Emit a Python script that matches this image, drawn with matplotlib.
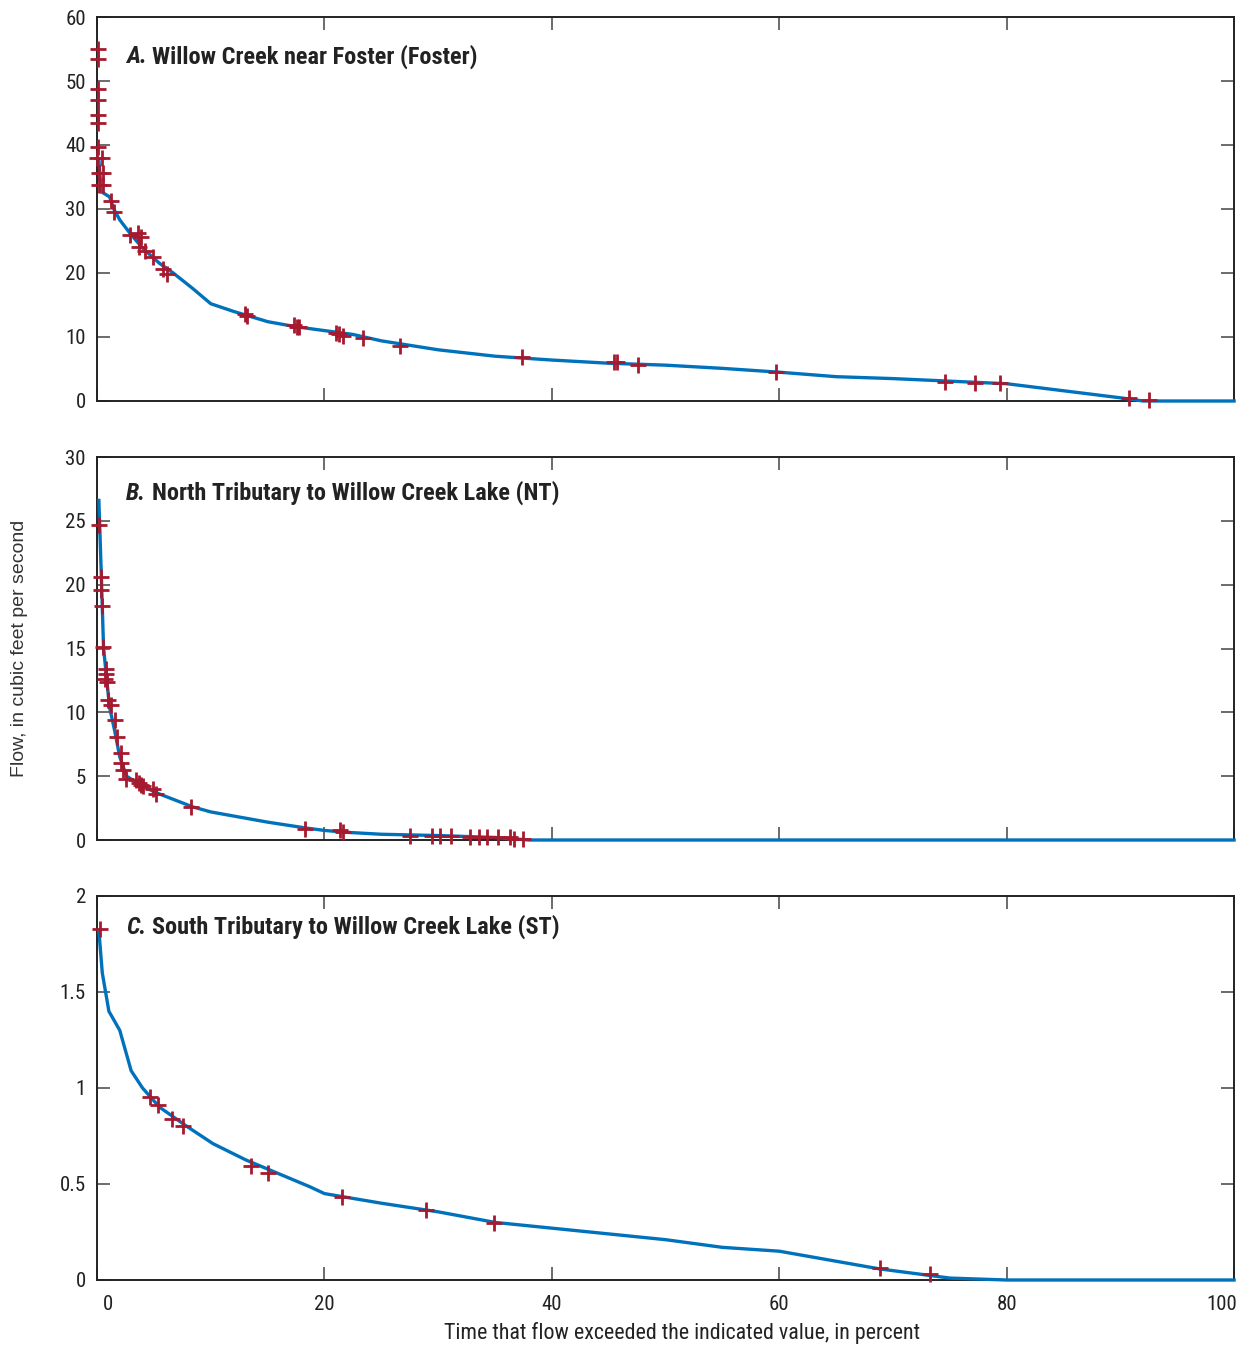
import matplotlib
matplotlib.use("Agg")
import matplotlib.pyplot as plt
import matplotlib.transforms as mtransforms

# Flow-duration data, percent of time exceeded vs flow (ft3/s)
# A. Willow Creek near Foster
a_curve_pct = [0.16, 0.37, 1.1, 1.5, 2.0, 2.9, 4.0, 5.5, 6.7, 8.4, 10.0, 12.0, 15.0,
               17.5, 20.0, 22.5, 25.0, 30.0, 35.0, 40.0, 45.0, 50.0, 55.0, 60.0,
               65.0, 70.0, 75.0, 80.0, 85.0, 90.0, 92.0, 95.0, 100.0]
a_curve_flow = [37.7, 32.7, 31.9, 29.9, 28.3, 26.2, 23.9, 21.5, 20.0, 17.6, 15.2, 14.0, 12.4,
                11.6, 11.0, 10.4, 9.4, 8.0, 7.0, 6.4, 5.9, 5.6, 5.1, 4.5,
                3.8, 3.5, 3.1, 2.7, 1.6, 0.5, 0.0, 0.0, 0.0]
a_obs_pct = [0.05, 0.05, 0.05, 0.05, 0.05, 0.05, 0.05, 0.0, 0.4, 0.2, 0.5, 0.2, 0.5,
             1.25, 1.5, 2.9, 3.6, 3.9, 3.7, 4.2, 4.9, 5.8, 6.15, 13.0, 13.2,
             17.3, 17.6, 17.8, 21.0, 21.3, 21.6, 23.4, 26.65, 37.4, 45.5, 45.7,
             47.6, 59.7, 74.6, 77.2, 79.4, 90.8, 92.5]
a_obs_flow = [55.0, 53.5, 48.7, 47.0, 44.7, 43.5, 39.7, 37.9, 37.9, 35.6, 35.6, 33.8, 33.8,
              31.25, 29.5, 26.0, 26.2, 25.6, 24.1, 23.5, 22.5, 20.6, 19.8, 13.6, 13.3,
              11.9, 11.6, 11.5, 10.7, 10.5, 10.2, 9.9, 8.65, 6.9, 6.05, 6.05,
              5.7, 4.5, 3.0, 2.8, 2.8, 0.4, 0.1]

# B. North Tributary to Willow Creek Lake
b_curve_pct = [0.16, 0.37, 0.57, 0.8, 1.1, 1.54, 2.0, 2.6, 4.0, 5.5, 8.4, 10.0, 15.0,
               18.3, 20.0, 22.0, 25.0, 30.0, 35.0, 38.0, 40.0, 100.0]
b_curve_flow = [26.6, 20.9, 15.1, 13.0, 10.4, 8.6, 6.5, 5.0, 4.2, 3.6, 2.6, 2.2, 1.4,
                0.95, 0.75, 0.6, 0.45, 0.35, 0.2, 0.0, 0.0, 0.0]
b_obs_pct = [0.2, 0.37, 0.37, 0.45, 0.5, 0.8, 0.8, 0.7, 0.9, 1.0, 1.25, 1.54, 1.75,
             2.07, 2.07, 2.27, 2.57, 3.45, 3.7, 3.9, 4.0, 4.9, 5.2, 8.3, 18.3,
             21.4, 21.6, 27.5, 29.5, 30.2, 31.1, 32.8, 33.6, 34.3, 35.3, 36.3, 36.7, 37.5]
b_obs_flow = [24.7, 20.6, 19.6, 18.3, 15.1, 13.4, 13.0, 12.6, 12.4, 11.0, 10.6, 9.4, 8.1,
              6.8, 6.0, 5.5, 4.8, 4.7, 4.5, 4.3, 4.2, 4.0, 3.6, 2.6, 0.9,
              0.8, 0.6, 0.35, 0.3, 0.3, 0.3, 0.25, 0.25, 0.25, 0.25, 0.2, 0.1, 0.05]

# C. South Tributary to Willow Creek Lake
c_curve_pct = [0.16, 0.46, 1.04, 2.0, 3.0, 4.0, 5.5, 7.9, 10.2, 13.1, 18.7, 20.0, 25.0,
               30.0, 35.0, 40.0, 50.0, 55.0, 60.0, 68.8, 75.0, 80.0, 100.0]
c_curve_flow = [1.82, 1.60, 1.40, 1.30, 1.09, 1.00, 0.90, 0.80, 0.71, 0.625, 0.486, 0.45, 0.40,
                0.355, 0.30, 0.27, 0.21, 0.17, 0.15, 0.058, 0.01, 0.0, 0.0]
c_obs_pct = [0.22, 4.7, 5.4, 6.6, 7.6, 13.5, 15.0, 21.5, 28.9, 34.9, 68.9, 73.3]
c_obs_flow = [1.83, 0.955, 0.91, 0.837, 0.80, 0.595, 0.559, 0.43, 0.365, 0.297, 0.06, 0.03]

panels = [
    ("A.", "Willow Creek near Foster (Foster)", a_curve_pct, a_curve_flow,
     a_obs_pct, a_obs_flow, [0, 10, 20, 30, 40, 50, 60], ["0", "10", "20", "30", "40", "50", "60"]),
    ("B.", "North Tributary to Willow Creek Lake (NT)", b_curve_pct, b_curve_flow,
     b_obs_pct, b_obs_flow, [0, 5, 10, 15, 20, 25, 30], ["0", "5", "10", "15", "20", "25", "30"]),
    ("C.", "South Tributary to Willow Creek Lake (ST)", c_curve_pct, c_curve_flow,
     c_obs_pct, c_obs_flow, [0, 0.5, 1, 1.5, 2], ["0", "0.5", "1", "1.5", "2"]),
]
x_ticks = [0, 20, 40, 60, 80, 100]
x_labels = ["0", "20", "40", "60", "80", "100"]

NARROW = ["Roboto Condensed", "Liberation Sans Narrow", "Liberation Sans", "DejaVu Sans"]
plt.rcParams["font.family"] = NARROW

LINE_BLUE = "#0072BC"
MARK_RED = "#A6192E"
INK = "#222222"

fig = plt.figure(figsize=(12.41, 13.45), dpi=100)
boxes = [(0.0782, 0.70186, 0.9162, 0.2855),
         (0.0782, 0.37546, 0.9162, 0.28476),
         (0.0782, 0.04833, 0.9162, 0.2855)]
title_y = [0.896, 0.906, 0.919]

for i, (box, p) in enumerate(zip(boxes, panels)):
    letter, name, cx, cy, ox, oy, yt, yl = p
    ax = fig.add_axes(box)
    ax.plot(cx, cy, color=LINE_BLUE, lw=2.4, zorder=3, clip_on=False)
    ax.plot(ox, oy, ls="none", marker="+", ms=11, mew=2.0, color=MARK_RED,
            zorder=4, clip_on=False)
    ax.set_xlim(0, 100)
    ax.set_ylim(yt[0], yt[-1])
    ax.set_yticks(yt)
    ax.set_yticklabels(yl)
    ax.set_xticks(x_ticks)
    if i == 2:
        ax.set_xticklabels(x_labels)
    else:
        ax.set_xticklabels([])
    ax.tick_params(axis="both", direction="in", length=9.5, width=1.1,
                   color="#444444", labelsize=15, labelcolor=INK,
                   top=True, right=True)
    ax.tick_params(axis="y", pad=8)
    ax.tick_params(axis="x", pad=11)
    for s in ax.spines.values():
        s.set_linewidth(1.4)
        s.set_color(INK)

    if i == 2:
        lbls = ax.get_xticklabels()
        lbls[0].set_transform(lbls[0].get_transform() +
                              mtransforms.ScaledTranslation(11 / 100, 0, fig.dpi_scale_trans))
        lbls[-1].set_horizontalalignment("right")
        lbls[-1].set_transform(lbls[-1].get_transform() +
                               mtransforms.ScaledTranslation(3 / 100, 0, fig.dpi_scale_trans))

    t1 = ax.text(0.0255, title_y[i], letter, transform=ax.transAxes, fontsize=17.5,
                 fontweight="bold", fontstyle="italic", color=INK, va="center")
    ax.annotate(name, xy=(1, 0.5), xycoords=t1, xytext=(4, 0), textcoords="offset points",
                fontsize=17.5, fontweight="bold", color=INK, va="center")

fig.text(682 / 1241, 1 - 1333 / 1345, "Time that flow exceeded the indicated value, in percent",
         ha="center", va="center", fontsize=15.8, color=INK)
fig.text(20 / 1241, 1 - 648 / 1345, "Flow, in cubic feet per second", rotation=90,
         ha="center", va="center", fontsize=14, color="#333333",
         family=["Liberation Sans", "DejaVu Sans"])

fig.savefig("out.png", dpi=100)
